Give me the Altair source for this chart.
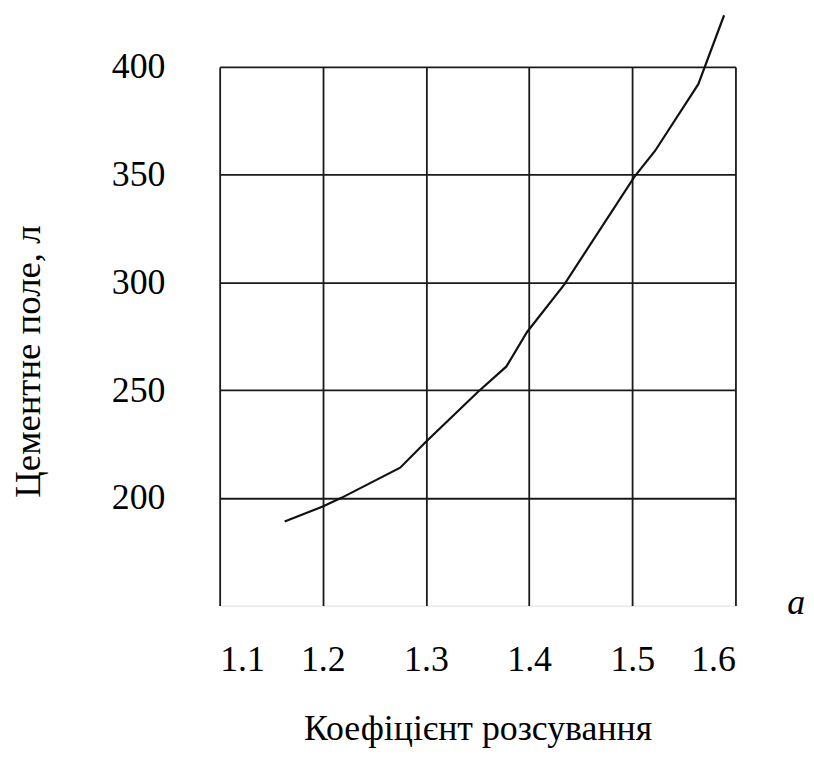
import altair as alt
import pandas as pd

# Curve
coef = [1.163, 1.200, 1.218, 1.275, 1.300, 1.350, 1.378, 1.398, 1.434, 1.502, 1.522, 1.564, 1.589]
field = [189, 196, 200, 214, 226, 249, 261, 277, 299, 349, 361, 392, 424]

x_ticks = [1.1, 1.2, 1.3, 1.4, 1.5, 1.6]
y_ticks = [200, 250, 300, 350, 400]

df = pd.DataFrame({"a": coef, "v": field})

FONT = "'Liberation Serif', 'Times New Roman', 'DejaVu Serif', serif"

x_scale = alt.Scale(domain=[1.1, 1.6], nice=False, zero=False)
y_scale = alt.Scale(domain=[150, 400], nice=False, zero=False)

line = alt.Chart(df).mark_line(color="#111", strokeWidth=2.2).encode(
    x=alt.X(
        "a:Q",
        scale=x_scale,
        axis=alt.Axis(
            values=x_ticks,
            format=".1f",
            title="Коефіцієнт розсування",
            titleFont=FONT,
            titleFontSize=36,
            titleFontWeight="normal",
            titleColor="#000",
            titlePadding=35,
            labelFont=FONT,
            labelFontSize=36,
            labelColor="#000",
            labelPadding=37,
            grid=True,
            gridColor="#1a1a1a",
            gridWidth=1.8,
            gridOpacity=1,
            domain=False,
            ticks=False,
        ),
    ),
    y=alt.Y(
        "v:Q",
        scale=y_scale,
        axis=alt.Axis(
            values=y_ticks,
            title="Цементне поле, л",
            titleFont=FONT,
            titleFontSize=37,
            titleFontWeight="normal",
            titleColor="#000",
            titleAngle=-90,
            titleY=296,
            titlePadding=64,
            labelFont=FONT,
            labelFontSize=36,
            labelColor="#000",
            labelPadding=55,
            grid=True,
            gridColor="#1a1a1a",
            gridWidth=1.8,
            gridOpacity=1,
            domain=False,
            ticks=False,
        ),
    ),
)

a_label = alt.Chart(pd.DataFrame({"t": ["a"]})).mark_text(
    font=FONT, fontSize=36, fontStyle="italic", color="#000", align="center", baseline="alphabetic", dy=8
).encode(
    x=alt.datum(1.659, scale=x_scale),
    y=alt.datum(150, scale=y_scale),
    text="t:N",
)

chart = (
    alt.layer(line, a_label)
    .properties(width=519, height=542, padding={"top": 0, "left": 2, "right": 0, "bottom": 0})
    .configure_view(stroke="#111", strokeWidth=1.8)
    .configure(background="white")
)

chart.save("out.html", embed_options={"renderer": "svg", "actions": False})
